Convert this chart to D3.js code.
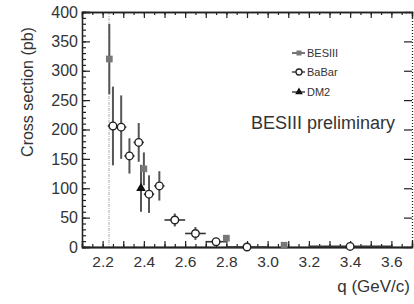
<!DOCTYPE html>
<html>
<head>
<meta charset="utf-8">
<script src="https://cdn.jsdelivr.net/npm/d3@7"></script>
<style>
  body { margin: 0; background: #fff; }
  svg text { font-family: "Liberation Sans", Arial, sans-serif; fill: #333; }
</style>
</head>
<body>
<div id="chart"></div>
<script>
// BESIII
const besQ = [2.2324, 2.40, 2.80, 3.08];
const besV = [320, 133, 15, 3];
const besErr = [60, 28, 4, 2];

// BaBar
const babarQ = [2.25, 2.29, 2.33, 2.375, 2.425, 2.475, 2.55, 2.65, 2.75, 2.90, 3.40];
const babarV = [206, 204, 155, 178, 90, 104, 46, 23, 9, 0, 1];
const babarErrY = [67, 54, 30, 33, 32, 25, 11, 11, 6, 1, 1];
const babarErrX = [0.025, 0.025, 0.025, 0.025, 0.025, 0.025, 0.05, 0.05, 0.05, 0.1, 0.2];

// DM2
const dm2Q = [2.386];
const dm2V = [100];
const dm2Err = [40];

const threshold = 2.231;
const xTickLabels = [2.2, 2.4, 2.6, 2.8, 3.0, 3.2, 3.4, 3.6];
const yTickLabels = [0, 50, 100, 150, 200, 250, 300, 350, 400];
const legendNames = ["BESIII", "BaBar", "DM2"];

const W = 414, H = 304;
const svg = d3.select("#chart").append("svg")
   .attr("width", W)
   .attr("height", H);

const x = d3.scaleLinear().domain([2.1, 3.7]).range([82, 412]);
const y = d3.scaleLinear().domain([0, 400]).range([247, 12]);

const minorX = d3.range(2.1, 3.7001, 0.05).map(v => +v.toFixed(2));
const majorX = d3.range(2.1, 3.7001, 0.1).map(v => +v.toFixed(1));
const minorY = d3.range(0, 401, 10);

// threshold line
svg.append("line")
   .attr("x1", x(threshold)).attr("x2", x(threshold))
   .attr("y1", y(400)).attr("y2", y(0))
   .attr("stroke", "#aaa")
   .attr("stroke-width", 1)
   .attr("stroke-dasharray", "3,1,1,1");

// bottom axis (ticks inward)
const gb = svg.append("g").attr("transform", `translate(0,${y(0)})`);
gb.call(d3.axisBottom(x).tickValues(minorX).tickSize(-3).tickFormat(""));
gb.append("g").call(d3.axisBottom(x).tickValues(majorX).tickSize(-6).tickFormat(""));
gb.append("g").call(d3.axisBottom(x).tickValues(xTickLabels).tickSize(0).tickPadding(9).tickFormat(d3.format(".1f")));

// top axis
const gt = svg.append("g").attr("transform", `translate(0,${y(400)})`);
gt.call(d3.axisTop(x).tickValues(minorX).tickSize(-3).tickFormat(""));
gt.append("g").call(d3.axisTop(x).tickValues(majorX).tickSize(-6).tickFormat(""));

// left axis
const gl = svg.append("g").attr("transform", `translate(${x(2.1)},0)`);
gl.call(d3.axisLeft(y).tickValues(minorY).tickSize(-4).tickFormat(""));
gl.append("g").call(d3.axisLeft(y).tickValues(yTickLabels).tickSize(-8).tickPadding(4).tickFormat(d3.format("d")));

// right axis (dotted)
const gr = svg.append("g").attr("transform", `translate(${x(3.7)},0)`);
gr.call(d3.axisRight(y).tickValues(yTickLabels).tickSize(-8).tickFormat(""));
gr.select(".domain").attr("stroke-dasharray", "1,2");

svg.selectAll(".domain").attr("stroke", "#222").attr("stroke-width", 1.3);
svg.selectAll(".tick line").attr("stroke", "#222").attr("stroke-width", 1.2);
gb.selectAll(".tick text").attr("font-size", 15.5).attr("fill", "#333");
gl.selectAll(".tick text").attr("font-size", 16).attr("fill", "#333");

// error bars
const errColor = "#555";
function vErr(qs, vs, es) {
   svg.append("g").selectAll("line")
      .data(qs)
      .enter()
      .append("line")
      .attr("x1", d => x(d)).attr("x2", d => x(d))
      .attr("y1", (d, i) => y(vs[i] + es[i]))
      .attr("y2", (d, i) => y(Math.max(0, vs[i] - es[i])))
      .attr("stroke", errColor)
      .attr("stroke-width", 2);
}
vErr(besQ, besV, besErr);
vErr(dm2Q, dm2V, dm2Err);
vErr(babarQ, babarV, babarErrY);

svg.append("g").selectAll("line")
   .data(babarQ)
   .enter()
   .append("line")
   .attr("x1", (d, i) => x(d - babarErrX[i]))
   .attr("x2", (d, i) => x(d + babarErrX[i]))
   .attr("y1", (d, i) => y(babarV[i]))
   .attr("y2", (d, i) => y(babarV[i]))
   .attr("stroke", "#333")
   .attr("stroke-width", 1.6);

// markers
const sq = d3.symbol().type(d3.symbolSquare).size(45);
const tri = d3.symbol().type(d3.symbolTriangle).size(40);

svg.append("g").selectAll("path")
   .data(besQ)
   .enter()
   .append("path")
   .attr("d", sq)
   .attr("transform", (d, i) => `translate(${x(d)},${y(besV[i])})`)
   .attr("fill", "#777");

svg.append("g").selectAll("path")
   .data(dm2Q)
   .enter()
   .append("path")
   .attr("d", tri)
   .attr("transform", (d, i) => `translate(${x(d)},${y(dm2V[i])})`)
   .attr("fill", "#111");

svg.append("g").selectAll("circle")
   .data(babarQ)
   .enter()
   .append("circle")
   .attr("cx", d => x(d))
   .attr("cy", (d, i) => y(babarV[i]))
   .attr("r", 3.8)
   .attr("fill", "#fff")
   .attr("stroke", "#222")
   .attr("stroke-width", 1.4);

// legend
const legend = svg.append("g");
const legY = [53, 72, 92];
legendNames.forEach((name, i) => {
   const g = legend.append("g").attr("transform", `translate(0,${legY[i]})`);
   g.append("line")
      .attr("x1", 292).attr("x2", 305)
      .attr("stroke", "#444").attr("stroke-width", 1.5);
   if (i === 0) {
      g.append("path").attr("d", d3.symbol().type(d3.symbolSquare).size(25))
         .attr("transform", "translate(299,0)").attr("fill", "#777");
   } else if (i === 1) {
      g.append("circle").attr("cx", 299).attr("cy", 0).attr("r", 3)
         .attr("fill", "#fff").attr("stroke", "#222").attr("stroke-width", 1.3);
   } else {
      g.append("path").attr("d", d3.symbol().type(d3.symbolTriangle).size(25))
         .attr("transform", "translate(299,0)").attr("fill", "#111");
   }
   g.append("text")
      .attr("x", 307).attr("y", 4)
      .attr("font-size", 11)
      .text(name);
});

svg.append("text")
   .attr("x", 395).attr("y", 129)
   .attr("text-anchor", "end")
   .attr("font-size", 18)
   .text("BESIII preliminary");

// axis titles
svg.append("text")
   .attr("transform", "translate(33,92) rotate(-90)")
   .attr("text-anchor", "middle")
   .attr("font-size", 16)
   .text("Cross section (pb)");

svg.append("text")
   .attr("x", 410).attr("y", 292)
   .attr("text-anchor", "end")
   .attr("font-size", 17)
   .text("q (GeV/c)");
</script>
</body>
</html>
